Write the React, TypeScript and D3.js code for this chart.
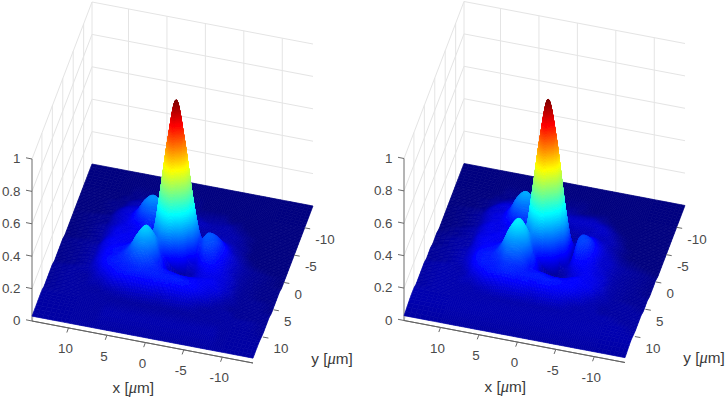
import React, { useEffect, useRef } from 'react';
import * as d3 from 'd3';

// grid nodes in um, finer around the peak
const xNodes = [-14, -12, -10, -9, -8, -7, -6, -5, -4, -3, -2, -1, 0, 1, 2, 3, 4, 5, 6, 7, 8, 9, 10, 12, 14.75];
const yNodes = xNodes;

const xTicks = [10, 5, 0, -5, -10];
const yTicks = [-10, -5, 0, 5, 10];
const zTicks = [0, 0.2, 0.4, 0.6, 0.8, 1];

// intensity in percent, one row per y node
const leftValues = [
  [0,0,0,0,0,0,0,0,0,0,0,0,0,0,0,0,0,0,0,0,0,0,0,0,0],
  [0,0,0,0,0,0,0,0,0,0,0,0,0,0,0,0,0,0,0,0,0,0,0,0,0],
  [0,0,0,0,0,0,0,0,0,0,0,0,1,1,1,1,1,1,1,1,1,0,0,0,0],
  [0,0,0,0,0,0,0,0,1,1,1,1,1,2,2,2,2,2,2,2,1,1,0,0,0],
  [0,0,0,0,0,0,1,1,2,2,2,2,3,3,3,3,3,4,4,4,3,1,1,0,0],
  [0,0,0,0,0,1,2,3,3,3,3,4,4,4,5,5,5,5,5,5,4,2,1,0,0],
  [0,0,0,0,1,2,3,4,4,4,5,5,5,6,7,8,9,9,8,7,6,4,1,0,0],
  [0,0,0,0,1,3,4,4,4,4,4,4,4,7,11,15,17,15,11,8,7,5,2,1,0],
  [0,0,0,0,2,3,4,5,5,4,3,3,5,9,15,21,24,21,14,9,7,5,2,1,0],
  [0,0,0,0,2,4,6,7,7,5,4,8,13,16,20,24,25,21,13,9,7,5,3,1,0],
  [0,0,0,1,3,5,9,12,12,9,14,34,43,34,20,17,17,13,10,9,8,6,3,1,0],
  [0,0,1,2,4,7,12,17,18,14,34,63,77,63,34,13,11,10,10,9,9,6,3,1,0],
  [0,1,2,3,5,8,13,19,20,18,43,77,100,77,43,12,10,10,10,10,9,7,3,2,1],
  [0,1,2,3,5,8,12,17,18,13,33,63,77,63,35,15,14,11,10,10,10,8,4,2,1],
  [1,1,2,3,5,8,11,14,13,8,12,33,43,34,21,23,21,15,12,11,10,8,4,2,1],
  [1,1,2,3,6,8,10,11,9,5,4,5,9,15,25,30,25,17,13,12,11,8,4,2,1],
  [1,1,2,3,6,8,9,9,8,6,5,6,8,15,26,31,26,18,14,12,11,8,4,2,1],
  [1,2,2,3,6,8,10,10,10,10,10,11,12,14,19,22,20,16,14,13,11,7,4,3,2],
  [1,2,2,3,4,8,9,10,11,12,13,13,13,14,15,16,15,14,13,12,9,5,3,3,2],
  [2,2,2,2,3,4,7,9,11,12,13,13,13,13,13,13,13,12,11,8,5,4,3,3,2],
  [2,2,2,3,3,3,3,4,6,7,7,7,6,7,7,7,7,6,5,4,3,3,3,3,2],
  [2,3,3,3,3,3,3,3,3,3,3,3,3,3,3,3,3,3,3,3,3,3,3,3,2],
  [2,3,3,3,3,3,3,3,3,3,3,3,3,3,3,3,3,3,3,3,3,3,3,3,3],
  [3,3,3,3,4,4,4,4,4,4,4,4,4,4,4,4,4,4,4,3,3,3,3,3,3],
  [3,3,3,3,3,3,3,3,3,3,3,3,3,3,3,3,3,3,3,3,3,3,3,3,3],
];

const rightValues = [
  [0,0,0,0,0,0,0,0,0,0,0,0,0,0,0,0,0,0,0,0,0,0,0,0,0],
  [0,0,0,0,0,0,0,0,0,0,0,0,0,0,0,0,0,0,0,0,0,0,0,0,0],
  [0,0,0,0,0,0,0,0,0,0,1,1,1,1,2,2,2,1,1,1,1,0,0,0,0],
  [0,0,0,0,0,0,0,1,1,1,1,2,2,3,3,3,3,3,2,2,1,1,0,0,0],
  [0,0,0,0,0,0,1,2,3,3,3,3,4,4,4,4,4,5,5,4,3,2,1,0,0],
  [0,0,0,0,0,1,3,4,5,5,5,5,5,6,6,6,6,6,6,6,5,3,1,0,0],
  [0,0,0,0,1,3,5,6,6,6,6,6,6,7,8,9,10,10,9,8,7,5,2,1,0],
  [0,0,0,0,2,4,6,6,5,5,5,4,4,8,13,17,19,17,12,8,7,6,3,1,0],
  [0,0,0,1,3,5,5,6,6,4,3,3,4,9,16,23,26,22,14,9,8,6,3,1,0],
  [0,0,0,1,3,5,7,9,8,5,3,6,12,16,21,26,27,22,13,9,8,6,3,1,0],
  [0,0,1,2,4,6,9,12,11,6,12,32,43,33,19,17,17,13,10,9,9,7,4,2,0],
  [0,1,2,3,5,7,11,16,16,7,30,63,77,62,33,11,10,10,10,9,9,7,4,2,1],
  [1,2,3,4,6,7,12,17,17,6,38,77,100,77,42,10,9,9,10,10,9,8,4,3,1],
  [1,2,3,4,6,7,11,15,15,6,28,62,77,63,35,15,14,11,10,10,10,8,4,3,1],
  [1,2,3,4,6,8,10,12,11,6,8,28,42,34,23,27,24,16,12,11,10,8,5,3,2],
  [1,2,3,4,7,8,10,10,8,4,3,4,8,17,29,34,28,18,13,12,11,8,5,3,2],
  [2,2,3,4,7,9,10,9,7,5,5,5,7,17,30,34,29,19,14,13,12,8,5,3,2],
  [2,2,3,4,7,9,10,11,10,9,9,10,11,13,21,24,22,16,14,13,12,7,4,4,3],
  [2,3,3,4,5,9,10,11,11,12,12,13,13,13,15,16,16,14,13,13,10,5,4,4,3],
  [3,3,3,3,4,5,8,10,11,12,13,13,13,13,13,14,14,13,12,9,6,5,4,4,3],
  [3,3,3,3,4,4,4,5,7,8,8,8,7,8,8,8,8,7,6,5,4,4,4,4,3],
  [3,3,4,4,4,4,4,4,4,4,4,4,4,4,4,4,4,4,4,4,4,4,4,4,3],
  [3,4,4,4,4,4,4,4,4,4,4,4,4,4,4,4,4,4,4,4,4,4,4,4,4],
  [4,4,4,4,4,4,4,4,4,4,4,4,4,4,4,4,4,4,4,4,4,4,4,4,4],
  [3,3,3,3,3,3,3,3,3,3,3,3,3,3,3,3,3,3,3,3,3,3,3,3,3],
];

const width = 727;
const height = 397;
const fontFamily = '"Liberation Sans", Arial, sans-serif';
const labelColor = '#4a4a4a';
const gridColor = '#e4e4e4';
const axisColor = '#6a6a6a';

// oblique view, fitted to the corners of the floor
const xMin = -14;
const xMax = 14.75;
const fx = d3.scaleLinear().domain([xMax, xMin]).range([0, 1]);
const fy = d3.scaleLinear().domain([xMax, xMin]).range([0, 1]);
const zScale = d3.scaleLinear().domain([0, 1]).range([0, 162]);

const project = (x: number, y: number, z: number): [number, number] => [
  32 + fx(x) * 221 + fy(y) * 60,
  321 + fx(x) * 42 - fy(y) * 157 - zScale(z),
];

// matlab's jet
const jet = d3.scaleLinear<string>()
  .domain([0, 0.11, 0.36, 0.61, 0.86, 1])
  .range(['#000080', '#0000ff', '#00ffff', '#ffff00', '#ff0000', '#800000'])
  .clamp(true);

const line = d3.line();

// catmull-rom, only used for painting between the grid nodes (like shading interp)
const cr = (a: number, b: number, c: number, d: number, t: number) =>
  0.5 * (2 * b + (c - a) * t + (2 * a - 5 * b + 4 * c - d) * t * t + (3 * b - a - 3 * c + d) * t * t * t);

const clampIdx = (i: number) => Math.max(0, Math.min(xNodes.length - 1, i));

const surfaceZ = (values: number[][], i: number, j: number, u: number, v: number) => {
  const rows = [-1, 0, 1, 2].map((dj) => {
    const row = values[clampIdx(j + dj)];
    return cr(row[clampIdx(i - 1)], row[i], row[i + 1], row[clampIdx(i + 2)], u);
  });
  return Math.max(0, cr(rows[0], rows[1], rows[2], rows[3], v)) / 100;
};

function drawPanel(g: any, values: number[][], id: string) {
  const seg = (a: [number, number], b: [number, number], color: string, w = 1) =>
    g.append('path').attr('d', line([a, b])).attr('stroke', color).attr('stroke-width', w).attr('fill', 'none');

  // walls
  zTicks.forEach((z) => {
    seg(project(xMax, xMax, z), project(xMax, xMin, z), gridColor);
    seg(project(xMax, xMin, z), project(xMin, xMin, z), gridColor);
  });
  xTicks.forEach((x) => seg(project(x, xMin, 0), project(x, xMin, 1), gridColor));
  yTicks.forEach((y) => seg(project(xMax, y, 0), project(xMax, y, 1), gridColor));
  seg(project(xMax, xMin, 0), project(xMax, xMin, 1), gridColor);

  // axes
  seg(project(xMax, xMax, 0), project(xMax, xMax, 1), axisColor);
  seg(project(xMax, xMax, 0), project(xMin, xMax, 0), '#555');

  // slight softening, the reference is a resampled bitmap
  g.append('filter').attr('id', id)
    .attr('x', '-5%').attr('y', '-5%').attr('width', '110%').attr('height', '110%')
    .append('feGaussianBlur').attr('stdDeviation', 0.45);

  // surface, back to front, each cell split so the colour runs smoothly
  const surface = g.append('g').attr('filter', `url(#${id})`);
  for (let j = 0; j < yNodes.length - 1; j++) {
    for (let i = xNodes.length - 2; i >= 0; i--) {
      const corners = [values[j][i], values[j][i + 1], values[j + 1][i], values[j + 1][i + 1]];
      const spread = (d3.max(corners)! - d3.min(corners)!) / 100;
      const n = Math.min(20, Math.max(4, Math.ceil(spread * 162 / 2)));
      const at = (u: number, v: number): [number, number] => project(
        xNodes[i] + u * (xNodes[i + 1] - xNodes[i]),
        yNodes[j] + v * (yNodes[j + 1] - yNodes[j]),
        surfaceZ(values, i, j, u, v),
      );
      for (let b = 0; b < n; b++) {
        for (let a = n - 1; a >= 0; a--) {
          const u0 = a / n, u1 = (a + 1) / n, v0 = b / n, v1 = (b + 1) / n;
          const c = jet(surfaceZ(values, i, j, (u0 + u1) / 2, (v0 + v1) / 2));
          surface.append('path')
            .attr('d', line([at(u0, v0), at(u1, v0), at(u1, v1), at(u0, v1)]) + 'Z')
            .attr('fill', c)
            .attr('stroke', c)
            .attr('stroke-width', 0.7);
        }
      }
    }
  }

  seg(project(xMax, xMax, 0), project(xMin, xMax, 0), '#666', 0.8);

  const text = (x: number, y: number, s: string, anchor: string) =>
    g.append('text')
      .attr('x', x).attr('y', y)
      .attr('dy', '0.36em')
      .attr('text-anchor', anchor)
      .attr('font-family', fontFamily)
      .attr('font-size', 13.4)
      .attr('fill', labelColor)
      .text(s);

  zTicks.forEach((z) => {
    const [px, py] = project(xMax, xMax, z);
    seg([px, py], [px - 6, py - 1.2], axisColor);
    text(px - 11.5, py - 0.5, String(z), 'end');
  });
  xTicks.forEach((x) => {
    const [px, py] = project(x, xMax, 0);
    seg([px, py], [px - 1.7, py + 4.6], axisColor);
    text(px - 3, py + 20.5, String(x), 'middle');
  });
  yTicks.forEach((y) => {
    const [px, py] = project(xMin, y, 0);
    seg([px, py], [px + 5.5, py + 1], axisColor);
    text(px + 10.7, py + 11.5, String(y), 'start');
  });

  const unitLabel = (x: number, y: number, name: string) => {
    const t = g.append('text')
      .attr('x', x).attr('y', y)
      .attr('dy', '0.36em')
      .attr('text-anchor', 'middle')
      .attr('font-family', fontFamily)
      .attr('font-size', 15.3)
      .attr('fill', '#3a3a3a');
    t.append('tspan').text(`${name} [`);
    t.append('tspan').attr('font-family', '"Liberation Serif", serif').attr('font-style', 'italic').attr('font-size', 16.5).text('\u03bc');
    t.append('tspan').text('m]');
  };
  unitLabel(133.3, 387, 'x');
  unitLabel(332, 358, 'y');
}

export default function App() {
  const svgRef = useRef<SVGSVGElement>(null);

  useEffect(() => {
    const svg = d3.select(svgRef.current);
    svg.selectAll('*').remove();
    drawPanel(svg.append('g'), leftValues, 'softL');
    drawPanel(svg.append('g').attr('transform', 'translate(372,-0.5)'), rightValues, 'softR');
  }, []);

  return (
    <svg
      ref={svgRef}
      width={width}
      height={height}
      style={{ position: 'absolute', left: 0, top: 0, background: '#fff' }}
    />
  );
}
